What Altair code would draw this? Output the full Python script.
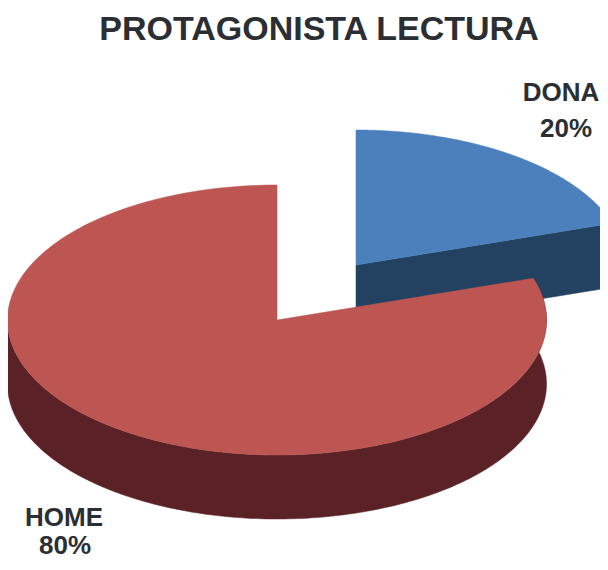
import numpy as np
import pandas as pd
import altair as alt

# Chart data
categories = ["DONA", "HOME"]
shares = [20, 80]
labels_pct = ["20%", "80%"]
title_text = "PROTAGONISTA LECTURA"

# Layout of the 3D projection (pixels inside the plot)
W, H = 592, 554
RX, RY, DEPTH = 269.5, 135, 64
CENTERS = {"DONA": (348, 257), "HOME": (269, 312)}
TOP = {"DONA": "#4b80bc", "HOME": "#bd5652"}
SIDE = {"DONA": "#234261", "HOME": "#5a2226"}


def pt(c, a):
    cx, cy = CENTERS[c]
    return cx + RX * np.sin(a), cy - RY * np.cos(a)


# Sector angles come from the shares
ends = np.cumsum(shares) / sum(shares) * 2 * np.pi
a_blue = (0.0, float(ends[0]))
a_red = (float(ends[0]), float(ends[1]))


def sector(c, a0, a1):
    xs, ys = pt(c, np.linspace(a0, a1, 240))
    cx, cy = CENTERS[c]
    return [(cx, cy)] + list(zip(xs, ys))


def wall(c, a0, a1):
    xs, ys = pt(c, np.linspace(a0, a1, 200))
    top = list(zip(xs, ys))
    return top + [(x, y + DEPTH) for x, y in reversed(top)]


def radial(c, a):
    cx, cy = CENTERS[c]
    x, y = pt(c, a)
    return [(cx, cy), (x, y), (x, y + DEPTH), (cx, cy + DEPTH)]


shapes = [
    ("blue side", radial("DONA", a_blue[1]), SIDE["DONA"]),
    ("blue top", sector("DONA", *a_blue), TOP["DONA"]),
    ("red side", wall("HOME", a_red[0], np.pi * 1.5), SIDE["HOME"]),
    ("red top", sector("HOME", *a_red), TOP["HOME"]),
]

xs = alt.X("x:Q", scale=alt.Scale(domain=[0, W]), axis=None)
ys = alt.Y("y:Q", scale=alt.Scale(domain=[H, 0]), axis=None)

layers = []
for name, pts, col in shapes:
    df = pd.DataFrame(pts, columns=["x", "y"])
    df["i"] = range(len(df))
    layers.append(
        alt.Chart(df)
        .mark_line(fill=col, stroke=col, strokeWidth=0.5, clip=True, interpolate="linear-closed")
        .encode(x=xs, y=ys, order="i:Q")
    )

label_df = pd.DataFrame({"x": [553, 56], "y": [85, 510], "line": categories})
pct_df = pd.DataFrame({"x": [558, 57], "y": [121, 538], "line": labels_pct})
title_df = pd.DataFrame({"x": [311], "y": [22], "line": [title_text]})
for d in (label_df, pct_df):
    layers.append(
        alt.Chart(d)
        .mark_text(font="Liberation Sans", fontWeight="bold", fontSize=26, color="#2b2f33", align="center", baseline="middle")
        .encode(x=xs, y=ys, text="line:N")
    )
layers.append(
    alt.Chart(title_df)
    .mark_text(font="Liberation Sans", fontWeight="bold", fontSize=34, color="#2b2f33", align="center", baseline="middle")
    .encode(x=xs, y=ys, text="line:N")
)

chart = (
    alt.layer(*layers)
    .properties(width=W, height=H, padding=0, autosize=alt.AutoSizeParams(type="none"))
    .configure_view(stroke=None)
)
chart.save("out.html", embed_options={"renderer": "svg", "actions": False})
